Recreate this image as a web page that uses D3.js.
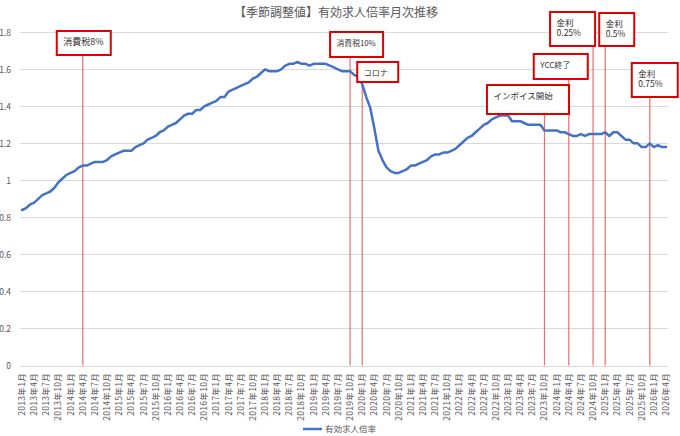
<!DOCTYPE html>
<html>
<head>
<meta charset="utf-8">
<script src="https://cdn.jsdelivr.net/npm/d3@7"></script>
<style>
  body { margin: 0; background: #fff; }
  svg { display: block; font-family: "Noto Sans CJK JP", "Noto Sans", sans-serif; }
</style>
</head>
<body>
<svg id="chart"></svg>
<script>
const title = '【季節調整値】有効求人倍率月次推移';
const seriesName = '有効求人倍率';

// monthly categories 2013-01 .. 2026-04
const years = [2013, 2014, 2015, 2016, 2017, 2018, 2019, 2020, 2021, 2022, 2023, 2024, 2025, 2026];
const lastMonth = 4;

// seasonally adjusted ratio, one value per month
const ratio = [
  0.84, 0.85, 0.87, 0.88, 0.90, 0.92, 0.93, 0.94, 0.96, 0.99, 1.01, 1.03, // 2013
  1.04, 1.05, 1.07, 1.08, 1.08, 1.09, 1.10, 1.10, 1.10, 1.11, 1.13, 1.14, // 2014
  1.15, 1.16, 1.16, 1.16, 1.18, 1.19, 1.20, 1.22, 1.23, 1.24, 1.26, 1.27, // 2015
  1.29, 1.30, 1.31, 1.33, 1.35, 1.36, 1.36, 1.38, 1.38, 1.40, 1.41, 1.42, // 2016
  1.43, 1.45, 1.45, 1.48, 1.49, 1.50, 1.51, 1.52, 1.53, 1.55, 1.56, 1.58, // 2017
  1.60, 1.59, 1.59, 1.59, 1.60, 1.62, 1.63, 1.63, 1.64, 1.63, 1.63, 1.62, // 2018
  1.63, 1.63, 1.63, 1.63, 1.62, 1.61, 1.60, 1.59, 1.59, 1.59, 1.57, 1.56, // 2019
  1.52, 1.45, 1.39, 1.28, 1.16, 1.11, 1.07, 1.05, 1.04, 1.04, 1.05, 1.06, // 2020
  1.08, 1.08, 1.09, 1.10, 1.11, 1.13, 1.14, 1.14, 1.15, 1.15, 1.16, 1.17, // 2021
  1.19, 1.21, 1.23, 1.24, 1.26, 1.28, 1.30, 1.31, 1.33, 1.34, 1.35, 1.35, // 2022
  1.35, 1.32, 1.32, 1.32, 1.31, 1.30, 1.30, 1.30, 1.30, 1.27, 1.27, 1.27, // 2023
  1.27, 1.26, 1.26, 1.25, 1.24, 1.24, 1.25, 1.24, 1.25, 1.25, 1.25, 1.25, // 2024
  1.26, 1.24, 1.26, 1.26, 1.24, 1.22, 1.22, 1.20, 1.20, 1.18, 1.18, 1.20, // 2025
  1.18, 1.19, 1.18, 1.18                                                  // 2026
];

const yTicks = [0, 0.2, 0.4, 0.6, 0.8, 1.0, 1.2, 1.4, 1.6, 1.8];

// annotated events
const eventMonths = ['2014-04', '2019-10', '2020-01', '2023-10', '2024-04', '2024-10', '2025-01', '2025-12'];
const eventLabels = [
  ['消費税8%'], ['消費税10%'], ['コロナ'], ['インボイス開始'], ['YCC終了'],
  ['金利', '0.25%'], ['金利', '0.5%'], ['金利', '0.75%']
];

const months = [];
years.forEach((y) => {
  for (let m = 1; m <= 12; m++) {
    if (y === years[years.length - 1] && m > lastMonth) break;
    months.push({ key: `${y}-${String(m).padStart(2, '0')}`, label: `${y}年${m}月`, m });
  }
});
const data = months.map((d, i) => ({ ...d, value: ratio[i] }));

const W = 680, H = 436;
const plot = { left: 20, right: 668, top: 32.3, bottom: 365.5 };

const svg = d3.select('#chart').attr('width', W).attr('height', H);

const x = d3.scaleBand()
  .domain(months.map((d) => d.key))
  .range([plot.left, plot.right])
  .paddingInner(0)
  .paddingOuter(0);
const cx = (k) => x(k) + x.bandwidth() / 2;

const y = d3.scaleLinear().domain([0, 1.8]).range([plot.bottom, plot.top]);

// title
svg.append('text')
  .attr('x', 336).attr('y', 17)
  .attr('text-anchor', 'middle')
  .style('font-size', '12px')
  .style('fill', '#595959')
  .text(title);

// gridlines
svg.append('g')
  .selectAll('line')
  .data(yTicks)
  .join('line')
  .attr('x1', plot.left).attr('x2', plot.right)
  .attr('y1', (d) => Math.round(y(d)) + 0.5)
  .attr('y2', (d) => Math.round(y(d)) + 0.5)
  .style('stroke', '#d9d9d9')
  .style('stroke-width', 1);

// y axis labels
const yAxis = svg.append('g')
  .attr('transform', `translate(${plot.left - 6},0)`)
  .call(d3.axisLeft(y).tickValues(yTicks).tickSize(0).tickFormat((d) => `${+d.toFixed(1)}`));
yAxis.select('.domain').remove();
yAxis.selectAll('text')
  .style('font-size', '8.5px')
  .style('fill', '#595959')
  .style('font-family', '"Noto Sans CJK JP", sans-serif');

// x axis labels (every 3 months)
const xAxis = svg.append('g')
  .attr('transform', `translate(0,${plot.bottom + 4})`)
  .call(
    d3.axisBottom(x)
      .tickValues(months.filter((d) => (d.m - 1) % 3 === 0).map((d) => d.key))
      .tickSize(0)
      .tickFormat((k) => months.find((d) => d.key === k).label),
  );
xAxis.select('.domain').remove();
xAxis.selectAll('text')
  .attr('transform', 'rotate(-90)')
  .attr('x', -3.5)
  .attr('y', 0)
  .attr('dy', '0.35em')
  .style('text-anchor', 'end')
  .style('font-size', '8.5px')
  .style('letter-spacing', '0.3px')
  .style('fill', '#595959')
  .style('font-family', '"Noto Sans CJK JP", sans-serif');

// event layout: box offset from the event line, top, size
const boxLayout = [
  { dx: -26, top: 31, w: 54, h: 24, fs: 9 },
  { dx: -20, top: 32, w: 53, h: 25, fs: 7.8 },
  { dx: -5, top: 62, w: 41, h: 20, fs: 8 },
  { dx: -57.5, top: 85, w: 82, h: 29, fs: 8.5 },
  { dx: -35, top: 54, w: 54, h: 25, fs: 8 },
  { dx: -43, top: 12, w: 45, h: 34, fs: 8.5 },
  { dx: -6, top: 13, w: 35, h: 33, fs: 8.5 },
  { dx: -18, top: 63, w: 46, h: 34, fs: 8.5 },
];

const events = eventMonths.map((k, i) => ({ key: k, lines: eventLabels[i], box: boxLayout[i] }));

// event lines
svg.append('g')
  .selectAll('line')
  .data(events)
  .join('line')
  .attr('x1', (d) => cx(d.key))
  .attr('x2', (d) => cx(d.key))
  .attr('y1', (d) => d.box.top + d.box.h)
  .attr('y2', y(0))
  .style('stroke', '#e84a4a')
  .style('stroke-opacity', 0.8)
  .style('stroke-width', 1.2);

// series line
const line = d3.line()
  .x((d) => cx(d.key))
  .y((d) => y(d.value));

svg.append('path')
  .datum(data)
  .attr('d', line)
  .style('fill', 'none')
  .style('stroke', '#4472c4')
  .style('stroke-width', 2.5)
  .style('stroke-linejoin', 'round')
  .style('stroke-linecap', 'round');

// event boxes
const boxes = svg.append('g')
  .selectAll('g')
  .data(events)
  .join('g')
  .attr('transform', (d) => `translate(${cx(d.key) + d.box.dx},${d.box.top})`);

boxes.append('rect')
  .attr('width', (d) => d.box.w)
  .attr('height', (d) => d.box.h)
  .style('fill', '#fff')
  .style('stroke', '#e00000')
  .style('stroke-width', 2);

boxes.each(function (d) {
  const g = d3.select(this);
  d.lines.forEach((t, j) => {
    g.append('text')
      .attr('x', 6.5)
      .attr('y', 13.5 + j * 10.5)
      .style('font-size', `${d.box.fs}px`)
      .style('fill', '#333')
      .text(t);
  });
});

// legend
const legend = svg.append('g').attr('transform', 'translate(303,429)');
legend.append('line')
  .attr('x1', 0).attr('x2', 19)
  .style('stroke', '#4472c4')
  .style('stroke-width', 2.5);
legend.append('text')
  .attr('x', 22).attr('y', 0).attr('dy', '0.35em')
  .style('font-size', '8.5px')
  .style('fill', '#595959')
  .text(seriesName);
</script>
</body>
</html>
